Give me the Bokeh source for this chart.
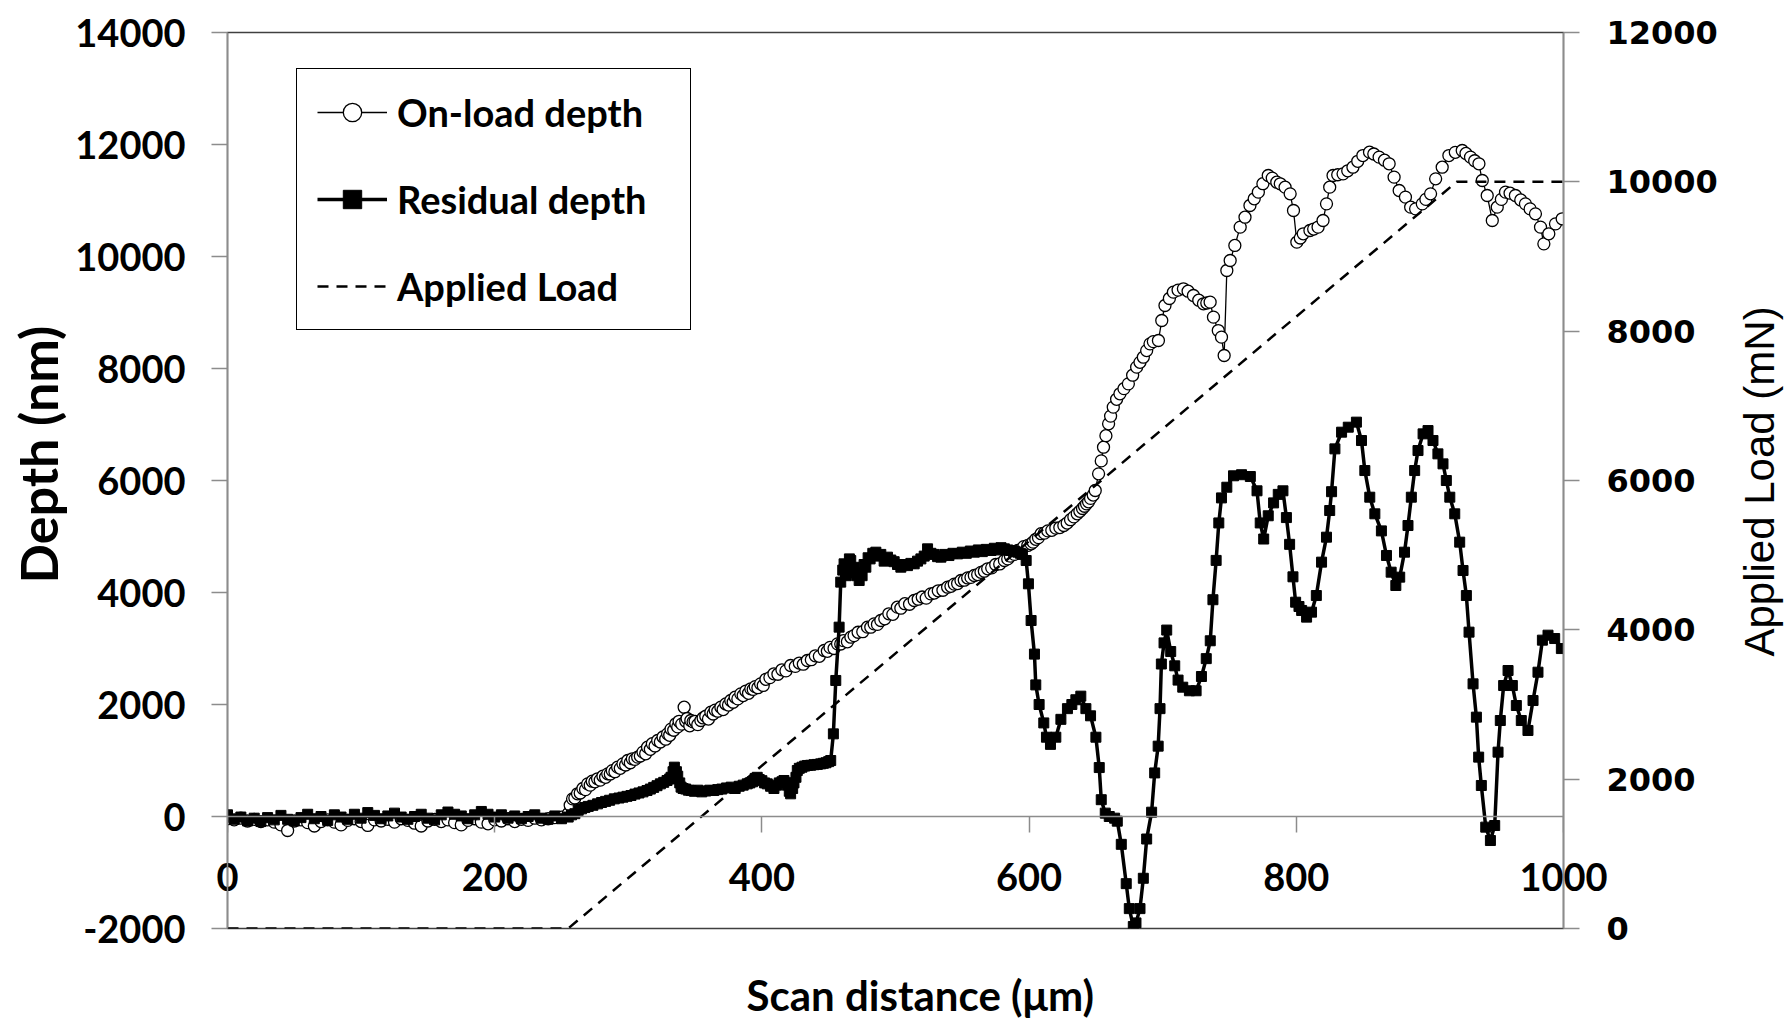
import math
from bokeh.plotting import figure
from bokeh.layouts import row, column
from bokeh.models import (Range1d, LinearAxis, FixedTicker, Legend, LegendItem, Title, Label)
from bokeh.embed import file_html
from bokeh.resources import INLINE

# ---------------- data ----------------
flat_um = [0, 5, 10, 15, 20, 25, 30, 35, 40, 45, 50, 55, 60, 65, 70, 75, 80, 85, 90, 95,
           100, 105, 110, 115, 120, 125, 130, 135, 140, 145, 150, 155, 160, 165, 170, 175,
           180, 185, 190, 195, 200, 205, 210, 215, 220, 225, 230, 235, 240, 245, 250]
residual_flat_nm = [30, -50, -10, -80, -30, -90, -20, -60, 20, -50, -80, -20, 40, -40, 0, -70, 30,
                    -10, -50, 40, -30, 70, 20, -40, 10, 60, -10, -50, 0, 40, -30, -60, 30, 80,
                    40, 10, -40, 30, 90, 40, -10, 30, -30, 10, -40, 0, 30, -30, -50, 10, -40]
onload_flat_nm = [-40, -60, -30, -80, -50, -90, -60, -100, -150, -250, -80, -60, -110, -170, -90,
                  -60, -100, -150, -70, -40, -90, -160, -60, -80, -50, -100, -40, -70, -120, -170,
                  -80, -50, -90, -60, -110, -150, -70, -40, -100, -130, -60, -80, -40, -90, -50,
                  -70, -30, -60, -40, -20, -10]

residual_um = [255, 257.5, 260, 262.5, 265, 267.5, 270, 273.5, 277, 280, 283, 286, 289.5, 293,
               296, 299, 302, 305, 308, 311, 314, 316.5, 319, 321.5, 324, 326.5, 329, 331, 332,
               333.5, 334.5, 336, 337, 338.5, 339.5, 341, 343, 345, 347, 349.5, 352, 355, 358,
               361, 364, 367, 370, 373.5, 377, 380, 383, 386, 389, 391, 393, 395, 396.5, 398,
               400, 402, 404, 406.5, 409, 411, 413, 415, 416.5, 418, 419, 420.5, 421.5, 423, 424,
               425.5, 426.5, 428, 430, 432, 434, 436.5, 439, 441.5, 444, 446, 448, 450, 451.5,
               453.5, 455.3, 457.8, 459, 460.5, 461.5, 463, 464, 465.5, 466.5, 468, 469, 471,
               472.8, 474, 475, 476.5, 477.8, 479.5, 481, 483, 485.3, 487, 489, 491.5, 494,
               496.5, 499, 501.5, 504, 506.5, 509, 511.5, 514, 516.5, 519, 521.5, 524, 526.5,
               529, 531.5, 534, 537, 540, 543, 546.5, 550, 553, 556, 559, 562, 565, 568, 571.5,
               574, 576, 579, 581.5, 584, 586, 589, 591.5, 593.5, 595, 597.8, 599.5, 601.5, 604,
               605, 607.5, 611, 613, 616, 620, 623.8, 628.7, 632, 635, 638.7, 642.5, 646, 650,
               652.5, 654, 657, 660, 664, 666, 669, 672.7, 675, 678, 680, 683, 685.5, 688, 691.7,
               694, 696.6, 698, 699, 701, 703, 706, 709, 711.5, 715, 720, 725, 729, 732.6, 735.6,
               737.6, 740, 742, 744, 748, 753, 759, 765.6, 770.6, 773, 775.6, 779, 783, 786.5,
               790, 792.6, 795, 797.5, 799.5, 802, 804, 807.7, 811.4, 815, 818.9, 822.6, 825,
               826.4, 828.9, 833.9, 838.9, 845, 848.8, 851.3, 855, 858.8, 863.7, 867.5, 871,
               874.5, 877.4, 881, 883.6, 886.1, 888.6, 891.1, 894.9, 898.6, 902.3, 906, 909.8,
               912.3, 914.9, 918.6, 922.3, 924.8, 927.3, 929.3, 932.3, 934.8, 936.5, 938.5,
               941.8, 945.3, 948.5, 951, 952.7, 955.2, 958.5, 961.7, 964.7, 968.4, 973.4, 977.2,
               980.9, 984.2, 988.4, 993.4, 998.4]
residual_nm = [-10, 30, 50, 110, 137, 160, 180, 200, 226, 250, 270, 290, 315, 330,
               345, 360, 375, 400, 420, 440, 464, 490, 520, 550, 583, 610, 643, 670, 700,
               800, 881, 800, 720, 600, 524, 500, 490, 470, 464, 450, 470, 440, 455,
               470, 464, 480, 490, 510, 524, 500, 540, 560, 583, 600, 620, 680, 700, 660,
               640, 600, 583, 540, 500, 560, 600, 620, 643, 600, 560, 450, 405, 500, 600,
               700, 821, 860, 880, 900, 911, 915, 925, 930, 940, 950, 960, 980, 1000,
               1476, 2429, 3381, 4185, 4400, 4512, 4300, 4400, 4600, 4571, 4350, 4450, 4300,
               4214, 4350, 4300, 4500, 4452, 4620, 4600, 4700, 4720, 4650, 4680, 4560, 4631,
               4580, 4550, 4500, 4452, 4500, 4480, 4520, 4512, 4560, 4600, 4650, 4780, 4700,
               4680, 4640, 4631, 4680, 4660, 4700, 4690, 4720, 4700, 4740, 4720, 4760, 4730, 4770, 4750,
               4790, 4760, 4800, 4780, 4760, 4750, 4740, 4720, 4700, 4680, 4571, 4155, 3500, 2900,
               2350, 2000, 1671, 1416, 1288, 1416, 1735, 1926, 2000, 2085, 2149, 1926, 1798, 1416,
               874, 300, 60, 0, -30, -83, -497, -1199, -1645, -1964, -1900, -1645, -1103, -402, 77,
               778, 1256, 1926, 2723, 3100, 3329, 2946, 2691, 2436, 2309, 2245, 2245, 2500, 2819, 3138,
               3871, 4573, 5242, 5689, 5880, 6084, 6103, 6071, 5816, 5242, 4955, 5370, 5600, 5752,
               5816, 5338, 4860, 4280, 3827, 3750, 3679, 3560, 3649, 3946, 4542, 4988, 5464,
               5800, 6565, 6863, 6952, 7042, 6714, 6178, 5702, 5405, 5100, 4661, 4363,
               4125, 4274, 4720, 5196, 5702, 6178, 6535, 6833, 6892, 6714, 6476, 6297,
               6000, 5702, 5405, 4899, 4393, 3946, 3292, 2369, 1774, 1060, 554,
               -190, -429, -161, 1149, 1714, 2339, 2607, 2339, 1982, 1714, 1536, 2071,
               2577, 3149, 3238, 3178, 2999]

onload_um = [255, 256.5, 258.3, 260, 262, 264, 266, 268, 269.6, 271.5, 273, 275, 277, 279, 281,
             283, 284.6, 286.5, 288, 290, 292, 294, 296, 298, 299.6, 301.5, 303, 305, 307, 309,
             311, 313, 314.4, 316.5, 318, 320, 322, 324, 326, 328, 329.4, 331, 332, 334, 335.6,
             337, 338, 340, 341.8, 343, 344, 346, 346.8, 348.5, 350, 352, 354.3, 356, 358, 360,
             361.8, 363.5, 365, 367, 369.3, 371, 373, 375, 376.7, 378.5, 380, 382, 384.2, 386,
             388, 390, 391.7, 393.5, 395, 397, 399, 401, 403, 406, 409, 412, 415, 418, 421.5,
             425, 428, 431, 434, 437, 440, 443, 446.6, 449, 451, 454, 456.6, 459, 461, 464,
             466.6, 469, 472, 475.5, 479, 481.5, 484, 486.5, 489, 492, 495, 498, 501.4, 504,
             507, 510.5, 514, 517, 520, 523, 526.4, 529, 532, 535.5, 539, 541.5, 544, 546.5,
             549, 551.5, 554, 556.5, 559, 561.5, 564, 566.5, 569, 572, 575, 578, 581.5, 584,
             586, 589, 591.5, 594, 596, 599, 601.5, 603, 605, 607, 609, 611.5, 614, 617, 620,
             623, 626, 628.5, 631, 633.5, 636, 638, 640, 641.5, 643, 644.5, 646, 648, 649.5,
             652, 654, 655.7, 657.5, 659.5, 661, 663, 665.5, 668, 671, 674.3, 677.5, 680.5, 683,
             685.5, 688, 690.5, 693, 696.8, 699.3, 701.7, 705, 708, 711.5, 715.5, 719, 723, 727,
             730.5, 733, 735.5, 738, 741.6, 744, 746, 748, 750.5, 754, 758, 761.6, 765.3, 768.5,
             771.6, 775, 779, 782, 785.4, 788, 791.6, 795.4, 797.9, 800.4, 803, 805.2, 810.2,
             813, 816.3, 820, 822.6, 825, 827.5, 831, 835, 838.5, 842.4, 846, 849.8, 854.8, 858,
             862, 866, 869.5, 873.2, 877, 881.7, 885.6, 889.3, 894.3, 897, 900.5, 904.3, 909.2,
             914.2, 919, 924.2, 927, 930.4, 933.5, 936.7, 939.2, 942.9, 946.7, 950.4, 953.5,
             956.6, 960, 964, 968, 971.5, 975, 979, 982.8, 985.3, 989, 994, 999]
onload_nm = [50, 200, 315, 330, 405, 420, 500, 480, 583, 560, 630, 620, 673, 650, 720,
             700, 762, 760, 820, 800, 881, 860, 940, 920, 1000, 960, 1030, 1020, 1060, 1080,
             1150, 1120, 1238, 1200, 1300, 1260, 1357, 1330, 1420, 1380, 1476, 1450, 1560, 1540, 1655,
             1600, 1700, 1650, 1952, 1700, 1750, 1620, 1714, 1690, 1700, 1640, 1714, 1760, 1790, 1740,
             1863, 1830, 1900, 1880, 1952, 1910, 2010, 1990, 2071, 2040, 2130, 2100, 2190, 2160,
             2240, 2200, 2280, 2270, 2320, 2300, 2369, 2340, 2450, 2480, 2548, 2540, 2620, 2600, 2696,
             2680, 2740, 2720, 2786, 2800, 2870, 2860, 2964, 2950, 3020, 3000, 3083, 3080, 3140, 3120,
             3202, 3230, 3290, 3300, 3381, 3380, 3440, 3430, 3500, 3530, 3620, 3610, 3738, 3720,
             3800, 3790, 3857, 3880, 3920, 3900, 3976, 3990, 4030, 4040, 4095, 4110, 4150, 4160,
             4214, 4220, 4260, 4270, 4304, 4320, 4360, 4380, 4423, 4440, 4500, 4510, 4571, 4600,
             4650, 4680, 4750, 4770, 4820, 4840, 4869, 4900, 4950, 4980, 5050, 5060, 5100, 5110, 5150,
             5160, 5196, 5240, 5300, 5350, 5405, 5450, 5500, 5540, 5583, 5620, 5680, 5740, 5821,
             6119, 6350, 6595, 6800, 7012, 7150, 7310, 7450, 7548, 7640, 7726, 7880, 8024, 8110,
             8202, 8320, 8440, 8480, 8500, 8857, 9125, 9250, 9363, 9400, 9423, 9380, 9304, 9220,
             9155, 9170, 9185, 8917, 8678, 8560, 8232, 9750, 9929, 10197, 10524, 10702, 10911, 11030,
             11149, 11300, 11446, 11400, 11327, 11298, 11238, 11119, 10821, 10256, 10330, 10405, 10464,
             10490, 10524, 10643, 10940, 11238, 11446, 11460, 11476, 11530, 11595, 11700, 11803, 11863, 11830,
             11774, 11720, 11655, 11417, 11179, 11060, 10881, 10851, 10940, 11020, 11119, 11387, 11595,
             11803, 11860, 11893, 11840, 11774, 11710, 11655, 11357, 11089, 10643, 10881, 11020,
             11149, 11130, 11089, 11010, 10940, 10850, 10762, 10524, 10226, 10405, 10583, 10673]

load_um = [0, 255, 920, 1000]
load_mN = [0, 0, 10000, 10000]

x_ticks = [0, 200, 400, 600, 800, 1000]
depth_ticks = [-2000, 0, 2000, 4000, 6000, 8000, 10000, 12000, 14000]
load_ticks = [0, 2000, 4000, 6000, 8000, 10000, 12000]

res_x = flat_um + residual_um
res_y = residual_flat_nm + residual_nm
on_x = flat_um + onload_um
on_y = onload_flat_nm + onload_nm

# ---------------- layout sizes ----------------
MAIN_W, MAIN_H = 1724, 960      # main chart
SIDE_W = 1784 - MAIN_W          # strip for the right-hand axis title
FOOT_H = 1020 - MAIN_H          # strip for the bottom axis title

# ---------------- main figure ----------------
p = figure(width=MAIN_W, height=MAIN_H, output_backend="svg", toolbar_location=None,
           x_range=Range1d(0, 1000), y_range=Range1d(-2000, 14000),
           min_border_left=226, min_border_right=MAIN_W - 1563, min_border_top=32,
           min_border_bottom=MAIN_H - 928)
p.extra_y_ranges = {"load": Range1d(0, 12000)}
p.grid.visible = False
p.outline_line_color = "#404040"
p.outline_line_width = 1.5
p.background_fill_color = "white"
p.border_fill_color = "white"

AX_GRAY = "#8c8c8c"
FONT = "Lato"

# x axis line + ticks crossing at depth 0
xa = p.xaxis[0]
xa.fixed_location = 0
xa.ticker = FixedTicker(ticks=x_ticks)
xa.axis_line_color = AX_GRAY
xa.axis_line_width = 1.5
xa.major_tick_line_color = AX_GRAY
xa.major_tick_line_width = 1.5
xa.major_tick_out = 16
xa.major_tick_in = 0
xa.minor_tick_line_color = None
xa.major_label_overrides = {t: "" for t in x_ticks}

# x tick labels (bottom axis, lifted up to sit just under the depth-0 line)
xl = LinearAxis(ticker=FixedTicker(ticks=x_ticks))
xl.axis_line_color = None
xl.major_tick_line_color = None
xl.major_tick_out = 0
xl.major_tick_in = 0
xl.minor_tick_line_color = None
xl.major_label_standoff = -66
xl.major_label_text_font = FONT
xl.major_label_text_font_style = "bold"
xl.major_label_text_font_size = "38px"
xl.major_label_text_color = "black"
p.add_layout(xl, "below")

# left depth axis
ya = p.yaxis[0]
ya.ticker = FixedTicker(ticks=depth_ticks)
ya.axis_line_color = AX_GRAY
ya.axis_line_width = 1.5
ya.major_tick_line_color = AX_GRAY
ya.major_tick_line_width = 1.5
ya.major_tick_out = 16
ya.major_tick_in = 0
ya.minor_tick_line_color = None
ya.major_label_text_font = FONT
ya.major_label_text_font_style = "bold"
ya.major_label_text_font_size = "38px"
ya.major_label_text_color = "black"
ya.major_label_standoff = 26
ya.major_label_overrides = {-2000: "-2000"}

# right load axis
ra = LinearAxis(y_range_name="load", ticker=FixedTicker(ticks=load_ticks))
ra.axis_line_color = AX_GRAY
ra.axis_line_width = 1.5
ra.major_tick_line_color = AX_GRAY
ra.major_tick_line_width = 1.5
ra.major_tick_out = 16
ra.major_tick_in = 0
ra.minor_tick_line_color = None
ra.major_label_text_font = "DejaVu Sans"
ra.major_label_text_font_style = "bold"
ra.major_label_text_font_size = "32px"
ra.major_label_text_color = "black"
ra.major_label_standoff = 27
p.add_layout(ra, "right")

# left axis title
p.add_layout(Title(text="Depth (nm)", align="left", offset=345, standoff=8,
                   text_font=FONT, text_font_style="bold", text_font_size="52px",
                   text_color="black"), "left")

# ---------------- series ----------------
on_line = p.line(on_x, on_y, line_color="black", line_width=1.3)
on_pts = p.scatter(on_x, on_y, marker="circle", size=12, fill_color="white",
                   line_color="black", line_width=1.3)

res_line = p.line(res_x, res_y, line_color="black", line_width=3.5)
res_pts = p.scatter(res_x, res_y, marker="square", size=10, fill_color="black", line_color="black")

load_line = p.line(load_um, load_mN, y_range_name="load", line_color="black", line_width=2.5,
                   line_dash="11 8")

legend = Legend(items=[LegendItem(label="On-load depth", renderers=[on_line, on_pts]),
                       LegendItem(label="Residual depth", renderers=[res_line, res_pts]),
                       LegendItem(label="Applied Load", renderers=[load_line])],
                location=(69, 598), orientation="vertical",
                border_line_color="black", border_line_width=1.5, border_line_alpha=1,
                background_fill_color="white", background_fill_alpha=1,
                padding=20, spacing=41, margin=0,
                glyph_width=70, glyph_height=46, label_height=46, label_width=273,
                label_standoff=10,
                label_text_font=FONT, label_text_font_style="bold",
                label_text_font_size="38px", label_text_color="black")
p.add_layout(legend)

# ---------------- right strip: "Applied Load (mN)" ----------------
pr = figure(width=SIDE_W, height=MAIN_H, output_backend="svg", toolbar_location=None,
            x_range=Range1d(0, SIDE_W), y_range=Range1d(0, MAIN_H),
            x_axis_type=None, y_axis_type=None, min_border=0)
pr.grid.visible = False
pr.outline_line_color = None
pr.background_fill_color = "white"
pr.border_fill_color = "white"
pr.add_layout(Label(x=35, y=MAIN_H - 481, text="Applied Load (mN)", angle=math.pi / 2,
                    text_align="center", text_baseline="middle",
                    text_font="Liberation Sans", text_font_size="42px", text_color="black"))

# ---------------- bottom strip: "Scan distance (µm)" ----------------
pb = figure(width=1784, height=FOOT_H, output_backend="svg", toolbar_location=None,
            x_range=Range1d(0, 1784), y_range=Range1d(0, FOOT_H),
            x_axis_type=None, y_axis_type=None, min_border=0)
pb.grid.visible = False
pb.outline_line_color = None
pb.background_fill_color = "white"
pb.border_fill_color = "white"
pb.add_layout(Label(x=920, y=FOOT_H - 34, text="Scan distance (\u03bcm)",
                    text_align="center", text_baseline="middle",
                    text_font=FONT, text_font_style="bold", text_font_size="42px",
                    text_color="black"))

layout = column(row(p, pr, spacing=0), pb, spacing=0)

open("out.html", "w").write(file_html(layout, INLINE))
